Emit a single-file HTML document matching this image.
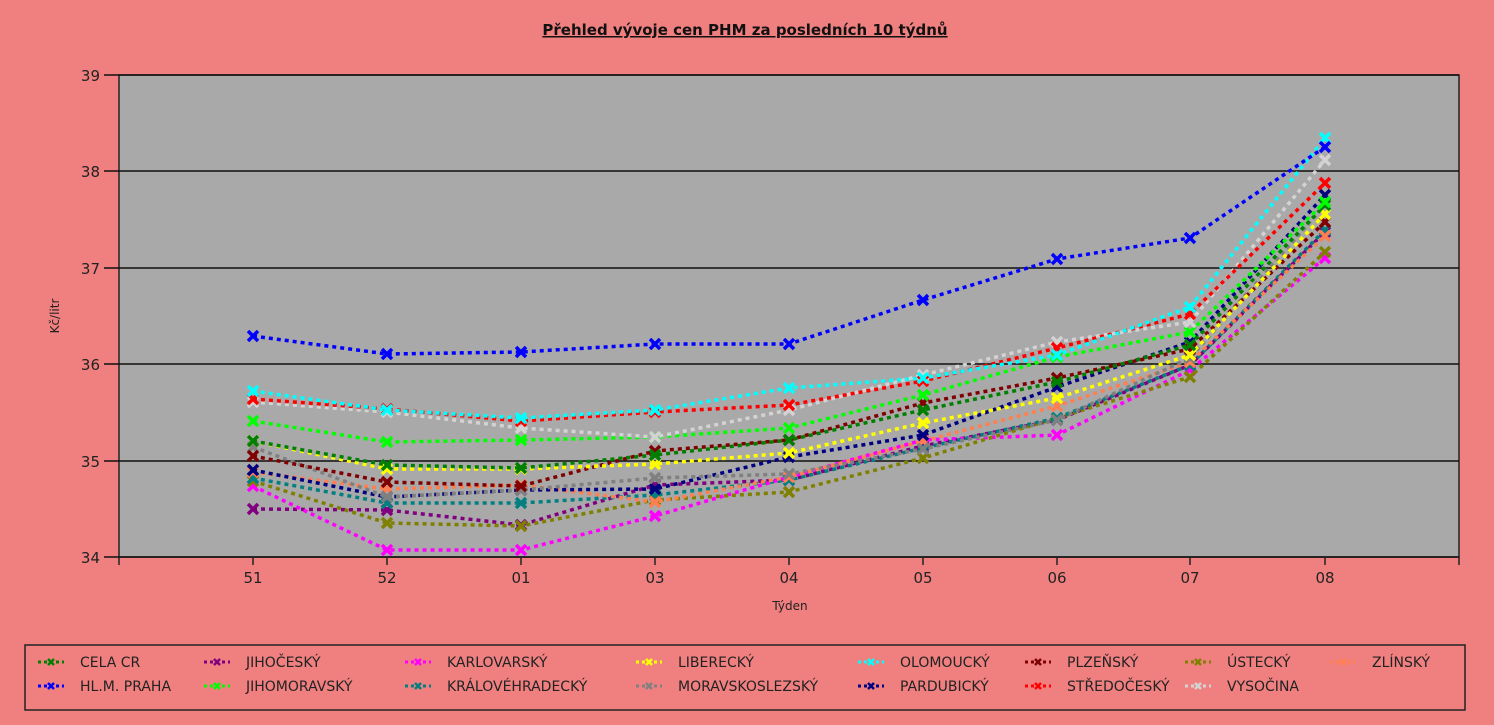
<!DOCTYPE html>
<html><head><meta charset="utf-8"><style>
body{margin:0;background:#F08080;}
svg{display:block;font-family:"DejaVu Sans","Liberation Sans",sans-serif;}
</style></head><body>
<svg id="c" width="1494" height="725" xmlns="http://www.w3.org/2000/svg">
<rect width="1494" height="725" fill="#F08080"/>
<text x="745" y="35" text-anchor="middle" font-size="15" font-weight="bold" text-decoration="underline" fill="#111">Přehled vývoje cen PHM za posledních 10 týdnů</text>
<rect x="119" y="75" width="1340" height="482" fill="#A9A9A9" stroke="#222" stroke-width="1.5"/>
<g stroke="#111" stroke-width="1.5">
<line x1="104" y1="75" x2="1459" y2="75"/>
<line x1="104" y1="171" x2="1459" y2="171"/>
<line x1="104" y1="268" x2="1459" y2="268"/>
<line x1="104" y1="364" x2="1459" y2="364"/>
<line x1="104" y1="461" x2="1459" y2="461"/>
<line x1="104" y1="557" x2="1459" y2="557"/>
</g>
<g font-size="15" fill="#222" text-anchor="end">
<text x="100" y="81">39</text><text x="100" y="177">38</text><text x="100" y="274">37</text>
<text x="100" y="370">36</text><text x="100" y="467">35</text><text x="100" y="563">34</text>
</g>
<g id="xt" font-size="15" fill="#222" text-anchor="middle"></g>
<text x="790" y="610" text-anchor="middle" font-size="12" fill="#222">Týden</text>
<text transform="translate(59,316) rotate(-90)" text-anchor="middle" font-size="12" fill="#222">Kč/litr</text>
<g id="series"></g>
<rect x="25" y="645" width="1440" height="65" fill="none" stroke="#222" stroke-width="1.5"/>
<g id="leg" font-size="14" fill="#222"></g>
</svg>
<script>
var X=[253,387,521,655,789,923,1057,1190,1325],L=["51","52","01","03","04","05","06","07","08"];
var ns="http://www.w3.org/2000/svg";
function el(t,a,p){var e=document.createElementNS(ns,t);for(var k in a)e.setAttribute(k,a[k]);p.appendChild(e);return e;}
var xt=document.getElementById("xt");
X.forEach(function(x,i){el("line",{x1:x,y1:557,x2:x,y2:565,stroke:"#222","stroke-width":1.5},xt);var t=el("text",{x:x,y:583},xt);t.textContent=L[i];});
el("line",{x1:1459,y1:557,x2:1459,y2:565,stroke:"#222","stroke-width":1.5},xt);
el("line",{x1:119,y1:557,x2:119,y2:565,stroke:"#222","stroke-width":1.5},xt);
var S=[
["Jihočeský","#800080",[509,510,525,485,480,446,420,365,232]],
["Karlovarský","#FF00FF",[486,550,550,516,477,440,435,370,258]],
["Ústecký","#808000",[481,523,526,500,492,458,418,377,252]],
["Královéhradecký","#008080",[478,503,503,495,480,448,418,365,230]],
["Zlínský","#FF7F50",[472,489,485,502,477,441,406,362,236]],
["Pardubický","#000080",[470,497,490,489,457,435,387,342,195]],
["Moravskoslezský","#808080",[447,497,490,478,474,449,420,358,205]],
["Plzeňský","#800000",[456,482,486,451,440,403,378,349,222]],
["Liberecký","#FFFF00",[441,469,469,464,453,423,398,355,214]],
["Cela","#008000",[441,465,468,455,440,410,382,345,205]],
["Jihomoravský","#00FF00",[421,442,440,437,428,395,357,332,202]],
["Vysočina","#D3D3D3",[402,412,428,437,410,375,342,322,160]],
["Středočeský","#FF0000",[399,409,421,412,405,381,348,314,183]],
["Olomoucký","#00FFFF",[391,410,418,410,388,378,355,307,138]],
["Praha","#0000FF",[336,354,352,344,344,300,259,238,147]]];
var g=document.getElementById("series");
function mark(x,y,c,p,s){el("path",{d:"M"+(x-s)+" "+(y-s)+"L"+(x+s)+" "+(y+s)+"M"+(x+s)+" "+(y-s)+"L"+(x-s)+" "+(y+s),stroke:c,"stroke-width":s>3?3.5:2.5,fill:"none"},p);}
S.forEach(function(s){var pts=X.map(function(x,i){return x+","+s[2][i];}).join(" ");
el("polyline",{points:pts,fill:"none",stroke:s[1],"stroke-width":3.5,"stroke-dasharray":"4 4"},g);
X.forEach(function(x,i){mark(x,s[2][i],s[1],g,5);});});
var LG=[["CELA CR","#008000",38,662],["JIHOČESKÝ","#800080",204,662],["KARLOVARSKÝ","#FF00FF",405,662],["LIBERECKÝ","#FFFF00",636,662],["OLOMOUCKÝ","#00FFFF",858,662],["PLZEŇSKÝ","#800000",1025,662],["ÚSTECKÝ","#808000",1185,662],["ZLÍNSKÝ","#FF7F50",1330,662],
["HL.M. PRAHA","#0000FF",38,686],["JIHOMORAVSKÝ","#00FF00",204,686],["KRÁLOVÉHRADECKÝ","#008080",405,686],["MORAVSKOSLEZSKÝ","#808080",636,686],["PARDUBICKÝ","#000080",858,686],["STŘEDOČESKÝ","#FF0000",1025,686],["VYSOČINA","#D3D3D3",1185,686]];
var lg=document.getElementById("leg");
LG.forEach(function(l){el("line",{x1:l[2],y1:l[3],x2:l[2]+26,y2:l[3],stroke:l[1],"stroke-width":3,"stroke-dasharray":"3 3"},lg);
mark(l[2]+13,l[3],l[1],lg,3);var t=el("text",{x:l[2]+42,y:l[3]+5},lg);t.textContent=l[0];});
</script>
</body></html>
